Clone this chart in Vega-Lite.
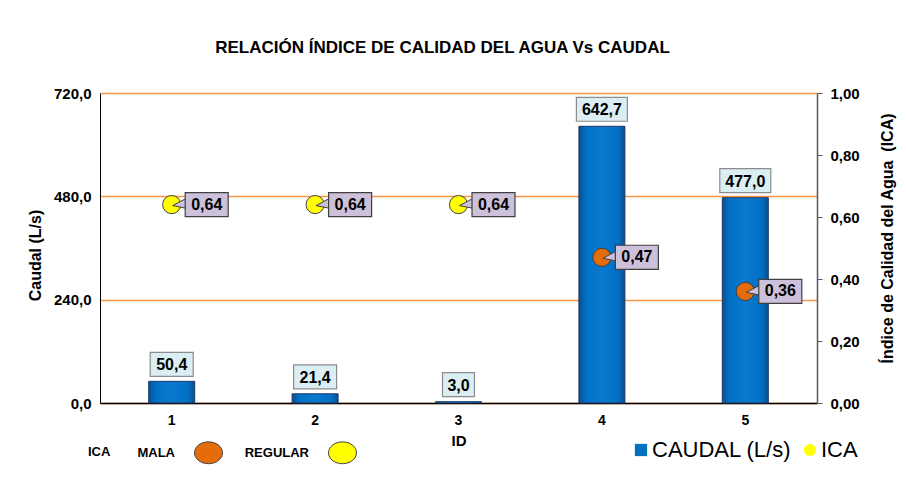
{
  "$schema": "https://vega.github.io/schema/vega-lite/v6.json",
  "width": 717,
  "height": 310,
  "autosize": {"type": "none"},
  "padding": {"left": 100, "top": 93, "right": 89, "bottom": 76},
  "background": "white",
  "config": {
    "locale": {"number": {"decimal": ",", "thousands": ".", "grouping": [3], "currency": ["", ""]}},
    "font": "Liberation Sans",
    "view": {"stroke": null},
    "axis": {"labelFont": "Liberation Sans", "titleFont": "Liberation Sans", "labelFontWeight": "bold", "titleFontWeight": "bold", "labelColor": "#000000", "titleColor": "#000000", "labelFontSize": 15, "titleFontSize": 16}
  },
  "title": {"text": "RELACIÓN ÍNDICE DE CALIDAD DEL AGUA Vs CAUDAL", "fontSize": 17, "fontWeight": "bold", "font": "Liberation Sans Narrow, Liberation Sans", "color": "#000000", "anchor": "middle", "offset": 29, "dx": -16},
  "datasets": {
    "main": [
      {"id": "1", "caudal": 50.4, "ica": 0.64, "calidad": "REGULAR"},
      {"id": "2", "caudal": 21.4, "ica": 0.64, "calidad": "REGULAR"},
      {"id": "3", "caudal": 3.0, "ica": 0.64, "calidad": "REGULAR"},
      {"id": "4", "caudal": 642.7, "ica": 0.47, "calidad": "MALA"},
      {"id": "5", "caudal": 477.0, "ica": 0.36, "calidad": "MALA"}
    ],
    "series": [
      {"serie": "CAUDAL (L/s)"},
      {"serie": "ICA"}
    ]
  },
  "layer": [
    {
      "data": {"name": "main"},
      "encoding": {
        "x": {"field": "id", "type": "ordinal", "title": "ID", "scale": {"paddingInner": 0, "paddingOuter": 0},
              "axis": {"labelAngle": 0, "ticks": false, "domainColor": "#000000", "domainWidth": 1.5, "labelPadding": 10, "titlePadding": 6, "labelFontSize": 14, "titleFontSize": 15}},
        "y": {"field": "caudal", "type": "quantitative", "title": "Caudal (L/s)", "scale": {"domain": [0, 720], "nice": false},
              "axis": {"orient": "left", "values": [0, 240, 480, 720], "format": ".1f", "grid": true, "gridColor": "#F79646", "gridWidth": 1.5, "ticks": false, "labelPadding": 9, "domainColor": "#000000", "domainWidth": 1, "titlePadding": 10, "titleY": 162}}
      },
      "layer": [
        {"mark": {"type": "bar", "width": 46, "stroke": "#1F3864", "strokeWidth": 1,
                  "fill": {"gradient": "linear", "x1": 0, "y1": 0, "x2": 1, "y2": 0,
                           "stops": [{"offset": 0, "color": "#0B4F8F"}, {"offset": 0.15, "color": "#0070C4"}, {"offset": 0.5, "color": "#0A78CE"}, {"offset": 0.85, "color": "#0070C4"}, {"offset": 1, "color": "#0B4F8F"}]}}},
        {"transform": [{"filter": "datum.caudal >= 100"}],
         "mark": {"type": "point", "shape": "M-1,-0.47H1V0.47H-1Z", "size": 2601, "filled": true, "fill": "#DAEEF3", "stroke": "#8C8C8C", "strokeWidth": 1.2, "opacity": 1, "yOffset": -17}},
        {"transform": [{"filter": "datum.caudal >= 10 && datum.caudal < 100"}],
         "mark": {"type": "point", "shape": "M-1,-0.558H1V0.558H-1Z", "size": 1849, "filled": true, "fill": "#DAEEF3", "stroke": "#8C8C8C", "strokeWidth": 1.2, "opacity": 1, "yOffset": -17}},
        {"transform": [{"filter": "datum.caudal < 10"}],
         "mark": {"type": "point", "shape": "M-1,-0.75H1V0.75H-1Z", "size": 1024, "filled": true, "fill": "#DAEEF3", "stroke": "#8C8C8C", "strokeWidth": 1.2, "opacity": 1, "yOffset": -17}},
        {"mark": {"type": "text", "fontSize": 16, "fontWeight": "bold", "yOffset": -16, "baseline": "middle", "color": "#000000"},
         "encoding": {"text": {"field": "caudal", "type": "quantitative", "format": ".1f"}}}
      ]
    },
    {
      "data": {"name": "main"},
      "encoding": {
        "x": {"field": "id", "type": "ordinal", "title": "ID", "scale": {"paddingInner": 0, "paddingOuter": 0},
              "axis": {"labelAngle": 0, "ticks": false, "domainColor": "#000000", "domainWidth": 1.5, "labelPadding": 10, "titlePadding": 6, "labelFontSize": 14, "titleFontSize": 15}},
        "y": {"field": "ica", "type": "quantitative", "title": "Índice de Calidad del Agua \u00a0(ICA)", "scale": {"domain": [0, 1], "nice": false},
              "axis": {"orient": "right", "values": [0, 0.2, 0.4, 0.6, 0.8, 1], "format": ".2f", "grid": false, "tickSize": 5, "tickColor": "#595959", "domainColor": "#595959", "domainWidth": 1.5, "labelPadding": 8, "titleAngle": -90, "titleBaseline": "middle", "titleX": 70, "titleY": 145}}
      },
      "layer": [
        {"mark": {"type": "point", "shape": "circle", "size": 330, "filled": true, "stroke": "#404040", "strokeWidth": 1, "opacity": 1},
         "encoding": {"color": {"field": "calidad", "type": "nominal", "scale": {"domain": ["MALA", "REGULAR"], "range": ["#E46C0A", "#FFFF00"]},
                      "legend": {"orient": "none", "legendX": -12, "legendY": 345, "direction": "horizontal", "title": "ICA", "titleOrient": "left", "titleFontSize": 13, "titleFontWeight": "bold", "titleColor": "#000000", "titlePadding": 83, "labelFontSize": 13, "labelFontWeight": "bold", "labelColor": "#000000", "symbolType": "M-1,0A1,0.78 0 1,1 1,0A1,0.78 0 1,1 -1,0Z", "symbolSize": 784, "symbolStrokeColor": "#404040", "symbolStrokeWidth": 1, "symbolOpacity": 1, "labelAlign": "right", "labelOffset": -48, "columnPadding": 19, "padding": 0}}}},
        {"mark": {"type": "point", "shape": "M1,1L16,-7L16,4Z", "size": 4, "filled": true, "fill": "#CCC0DA", "stroke": "#404040", "strokeWidth": 1, "opacity": 1}},
        {"mark": {"type": "point", "shape": "M-1,-0.56H1V0.56H-1Z", "size": 1849, "filled": true, "fill": "#CCC0DA", "stroke": "#404040", "strokeWidth": 1.2, "opacity": 1, "xOffset": 35}},
        {"mark": {"type": "text", "fontSize": 16, "fontWeight": "bold", "xOffset": 35, "baseline": "middle", "color": "#000000"},
         "encoding": {"text": {"field": "ica", "type": "quantitative", "format": ".2f"}}}
      ]
    },
    {
      "data": {"name": "series"},
      "mark": {"type": "point", "filled": true, "opacity": 0},
      "encoding": {
        "color": {"field": "serie", "type": "nominal", "scale": {"domain": ["CAUDAL (L/s)", "ICA"], "range": ["#0070C0", "#FFFF00"]},
                  "legend": {"orient": "none", "legendX": 530, "legendY": 346, "direction": "horizontal", "title": null, "labelFontSize": 22, "labelFont": "Liberation Sans", "labelColor": "#000000", "labelFontWeight": "normal", "symbolSize": 150, "symbolStrokeColor": "#1F3864", "symbolStrokeWidth": 1.2, "symbolOpacity": 1, "labelOffset": 0, "columnPadding": 7, "padding": 0}},
        "shape": {"field": "serie", "type": "nominal", "scale": {"domain": ["CAUDAL (L/s)", "ICA"], "range": ["square", "circle"]},
                  "legend": {"orient": "none", "legendX": 530, "legendY": 346, "direction": "horizontal", "title": null, "labelFontSize": 22, "labelFont": "Liberation Sans", "labelColor": "#000000", "labelFontWeight": "normal", "symbolSize": 150, "symbolStrokeColor": "#1F3864", "symbolStrokeWidth": 1.2, "symbolOpacity": 1, "labelOffset": 0, "columnPadding": 7, "padding": 0}}
      }
    }
  ],
  "resolve": {"scale": {"y": "independent", "color": "independent", "shape": "independent"}, "axis": {"y": "independent"}, "legend": {"color": "independent"}}
}
